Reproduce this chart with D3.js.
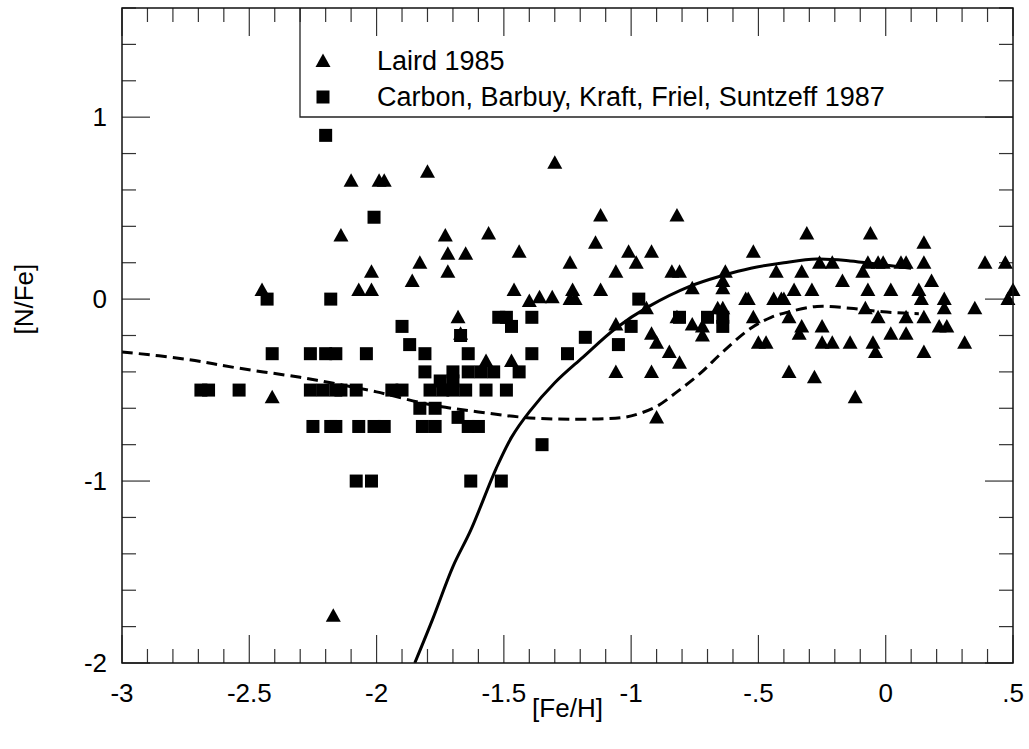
<!DOCTYPE html>
<html>
<head>
<meta charset="utf-8">
<script src="https://cdn.jsdelivr.net/npm/d3@7"></script>
<style>
  body { margin: 0; background: #fff; }
  text { font-family: "Liberation Sans", Arial, sans-serif; fill: #000; }
</style>
</head>
<body>
<div id="chart"></div>
<script>
// Laird 1985 (triangles): [Fe/H], [N/Fe]
const lairdFeH = [-2.45,-2.41,-2.17,-2.14,-2.10,-2.07,-2.02,-2.02,-1.99,-1.97,
  -1.86,-1.83,-1.80,-1.73,-1.72,-1.72,-1.68,-1.67,-1.65,
  -1.57,-1.56,-1.47,-1.46,-1.44,-1.40,-1.36,-1.31,-1.30,
  -1.24,-1.24,-1.22,-1.23,-1.14,-1.12,-1.12,-1.06,-1.06,-1.06,
  -1.01,-0.98,-0.94,-0.92,-0.92,-0.92,-0.90,-0.90,-0.85,
  -0.84,-0.82,-0.82,-0.81,-0.81,-0.76,-0.76,-0.72,-0.72,
  -0.66,-0.64,-0.64,-0.64,-0.63,-0.55,-0.54,-0.52,-0.52,-0.50,-0.47,
  -0.44,-0.43,-0.41,-0.40,-0.38,-0.38,-0.28,
  -0.36,-0.34,-0.33,-0.33,-0.31,-0.29,-0.26,-0.25,-0.25,-0.21,-0.21,
  -0.17,-0.14,-0.12,-0.09,-0.08,-0.07,-0.07,-0.06,-0.05,-0.04,-0.03,-0.03,-0.01,
  0.02,0.02,0.06,0.08,0.08,0.08,0.13,0.14,0.15,0.15,0.15,0.15,0.18,0.21,0.23,0.23,0.24,0.31,0.35,0.39,0.47,0.48,0.50];
const lairdNFe = [0.05,-0.54,-1.74,0.35,0.65,0.05,0.15,0.05,0.65,0.65,
  0.10,0.20,0.70,0.35,0.25,0.15,-0.10,-0.19,0.25,
  -0.34,0.36,-0.34,0.05,0.26,-0.01,0.01,0.01,0.75,
  0.20,0.0,0.0,0.05,0.31,0.46,0.05,0.15,-0.14,-0.40,
  0.26,0.20,-0.05,0.26,-0.19,-0.40,-0.24,-0.65,-0.29,
  0.15,0.46,-0.10,0.15,-0.35,0.06,-0.14,-0.15,-0.20,
  -0.05,-0.05,0.06,0.10,0.15,0.0,0.0,0.26,-0.10,-0.24,-0.24,
  0.0,0.15,0.0,0.0,-0.10,-0.40,-0.43,
  0.05,-0.19,0.15,-0.15,0.36,0.05,0.20,-0.15,-0.24,0.20,-0.24,
  0.10,-0.24,-0.54,0.15,-0.05,0.20,0.05,0.36,-0.24,-0.29,0.20,-0.10,0.20,
  0.05,-0.19,0.20,0.20,-0.10,-0.19,0.05,0.0,0.31,0.20,-0.10,-0.29,0.10,-0.15,0.0,-0.05,-0.15,-0.24,-0.05,0.20,0.20,0.0,0.05];

// Carbon, Barbuy, Kraft, Friel, Suntzeff 1987 (squares)
const carbonFeH = [-2.20,-2.43,-2.18,-2.01,
  -1.90,-1.87,-1.67,
  -2.41,-2.26,-2.20,-2.16,-2.04,-1.81,-1.64,-1.39,-1.25,
  -1.52,-1.49,-1.39,-0.81,-0.70,-0.64,
  -1.47,-1.00,-0.64,
  -0.97,-1.18,-1.05,
  -1.81,-1.70,-1.64,-1.59,-1.54,-1.44,
  -1.75,-1.70,
  -2.69,-2.66,-2.54,-2.26,-2.21,-2.16,-2.14,-2.08,-1.94,-1.90,-1.79,-1.74,-1.70,-1.65,-1.57,-1.49,
  -1.83,-1.77,-1.68,
  -2.25,-2.18,-2.16,-2.07,-2.01,-1.97,-1.82,-1.77,-1.64,-1.60,
  -1.35,
  -2.08,-2.02,-1.63,-1.51];
const carbonNFe = [0.90,0.0,0.0,0.45,
  -0.15,-0.25,-0.20,
  -0.30,-0.30,-0.30,-0.30,-0.30,-0.30,-0.30,-0.30,-0.30,
  -0.10,-0.10,-0.10,-0.10,-0.10,-0.10,
  -0.15,-0.15,-0.15,
  0.0,-0.21,-0.25,
  -0.40,-0.40,-0.40,-0.40,-0.40,-0.40,
  -0.45,-0.45,
  -0.50,-0.50,-0.50,-0.50,-0.50,-0.50,-0.50,-0.50,-0.50,-0.50,-0.50,-0.50,-0.50,-0.50,-0.50,-0.50,
  -0.60,-0.60,-0.65,
  -0.70,-0.70,-0.70,-0.70,-0.70,-0.70,-0.70,-0.70,-0.70,-0.70,
  -0.80,
  -1.0,-1.0,-1.0,-1.0];

// model curves
const solidFeH = [-1.85,-1.78,-1.70,-1.63,-1.53,-1.47,-1.40,-1.30,-1.19,-1.06,-0.93,-0.77,-0.64,-0.53,-0.40,-0.27,-0.14,-0.02,0.10];
const solidNFe = [-2.0,-1.76,-1.47,-1.27,-0.93,-0.76,-0.62,-0.46,-0.32,-0.16,-0.04,0.07,0.13,0.17,0.20,0.22,0.21,0.19,0.17];
const dashFeH = [-3,-2.75,-2.54,-2.3,-2.18,-2.0,-1.79,-1.6,-1.42,-1.23,-1.03,-0.97,-0.90,-0.82,-0.73,-0.64,-0.53,-0.45,-0.38,-0.27,-0.14,-0.01,0.13];
const dashNFe = [-0.29,-0.33,-0.38,-0.43,-0.46,-0.51,-0.58,-0.62,-0.65,-0.66,-0.65,-0.63,-0.59,-0.51,-0.41,-0.29,-0.16,-0.10,-0.07,-0.04,-0.05,-0.07,-0.08];

const xTicks = [-3, -2.5, -2, -1.5, -1, -0.5, 0, 0.5];
const xTickLabels = ["-3", "-2.5", "-2", "-1.5", "-1", "-.5", "0", ".5"];
const yTicks = [-2, -1, 0, 1];
const yTickLabels = ["-2", "-1", "0", "1"];
const legendLabels = ["Laird 1985", "Carbon, Barbuy, Kraft, Friel, Suntzeff 1987"];

const W = 1029, H = 749;
const margin = {top: 8, right: 16, bottom: 86, left: 122};
const fontSize = 26;

const svg = d3.select("#chart").append("svg")
  .attr("width", W).attr("height", H);

const x = d3.scaleLinear().domain([-3, 0.5]).range([margin.left, W - margin.right]);
const y = d3.scaleLinear().domain([-2, 1.6]).range([H - margin.bottom, margin.top]);

const x0 = x(-3), x1 = x(0.5), y0 = y(-2), y1 = y(1.6);

// clip for curves
svg.append("clipPath").attr("id", "clip")
  .append("rect").attr("x", x0).attr("y", y1).attr("width", x1 - x0).attr("height", y0 - y1);

// ticks (all four sides, pointing inward)
const ticks = svg.append("g").attr("stroke", "#333").attr("stroke-width", 1.2);
d3.range(-3, 0.5001, 0.1).forEach(function (v) {
  const major = Math.abs(v * 2 - Math.round(v * 2)) < 1e-6;
  const len = major ? 28 : 14;
  ticks.append("line").attr("x1", x(v)).attr("x2", x(v)).attr("y1", y0).attr("y2", y0 - len);
  ticks.append("line").attr("x1", x(v)).attr("x2", x(v)).attr("y1", y1).attr("y2", y1 + len);
});
d3.range(-2, 1.6001, 0.2).forEach(function (v) {
  const major = Math.abs(v - Math.round(v)) < 1e-6;
  const len = major ? 28 : 14;
  ticks.append("line").attr("y1", y(v)).attr("y2", y(v)).attr("x1", x0).attr("x2", x0 + len);
  ticks.append("line").attr("y1", y(v)).attr("y2", y(v)).attr("x1", x1).attr("x2", x1 - len);
});

// tick labels
svg.append("g").selectAll("text").data(xTicks).enter().append("text")
  .attr("x", d => x(d)).attr("y", y0 + 39)
  .attr("text-anchor", "middle").attr("font-size", fontSize)
  .text((d, i) => xTickLabels[i]);
svg.append("g").selectAll("text").data(yTicks).enter().append("text")
  .attr("x", x0 - 15).attr("y", d => y(d) + 9)
  .attr("text-anchor", "end").attr("font-size", fontSize)
  .text((d, i) => yTickLabels[i]);

// axis titles
svg.append("text").attr("x", (x0 + x1) / 2).attr("y", 717)
  .attr("text-anchor", "middle").attr("font-size", fontSize).text("[Fe/H]");
svg.append("text").attr("transform", "translate(33," + y(0) + ") rotate(-90)")
  .attr("text-anchor", "middle").attr("font-size", fontSize).text("[N/Fe]");

// legend box (left and bottom edges)
const legX = 300, legBottom = 117;
svg.append("path")
  .attr("d", "M" + legX + "," + y1 + "V" + legBottom + "H" + x1)
  .attr("fill", "none").attr("stroke", "#222").attr("stroke-width", 1.3);

const triPath = "M0,-7.5L7.5,6L-7.5,6Z";
const legY = [61, 97];
svg.append("path").attr("d", triPath).attr("transform", "translate(323," + legY[0] + ")").attr("fill", "#000");
svg.append("rect").attr("x", 323 - 6.5).attr("y", legY[1] - 6.5).attr("width", 13).attr("height", 13).attr("fill", "#000");
legendLabels.forEach(function (t, i) {
  svg.append("text").attr("x", 377).attr("y", legY[i] + 9).attr("font-size", 27).text(t);
});

// curves
const solidData = solidFeH.map((v, i) => [v, solidNFe[i]]);
const dashData = dashFeH.map((v, i) => [v, dashNFe[i]]);
const line = d3.line().x(d => x(d[0])).y(d => y(d[1])).curve(d3.curveCatmullRom.alpha(0.5));
const curves = svg.append("g").attr("clip-path", "url(#clip)");
curves.append("path").attr("d", line(solidData))
  .attr("fill", "none").attr("stroke", "#000").attr("stroke-width", 3);
curves.append("path").attr("d", line(dashData))
  .attr("fill", "none").attr("stroke", "#000").attr("stroke-width", 3)
  .attr("stroke-dasharray", "11,6");

// points
const lairdData = lairdFeH.map((v, i) => [v, lairdNFe[i]]);
const carbonData = carbonFeH.map((v, i) => [v, carbonNFe[i]]);
svg.append("g").selectAll("rect").data(carbonData).enter().append("rect")
  .attr("x", d => x(d[0]) - 6.5).attr("y", d => y(d[1]) - 6.5)
  .attr("width", 13).attr("height", 13).attr("fill", "#000");
svg.append("g").selectAll("path").data(lairdData).enter().append("path")
  .attr("d", triPath)
  .attr("transform", d => "translate(" + x(d[0]) + "," + y(d[1]) + ")")
  .attr("fill", "#000");

// frame
svg.append("rect").attr("x", x0).attr("y", y1).attr("width", x1 - x0).attr("height", y0 - y1)
  .attr("fill", "none").attr("stroke", "#111").attr("stroke-width", 1.5);
</script>
</body>
</html>
